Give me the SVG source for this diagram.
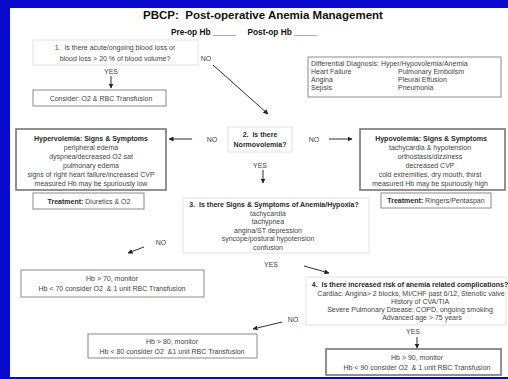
<svg xmlns="http://www.w3.org/2000/svg" width="508" height="379" viewBox="0 0 508 379" xml:space="preserve">
<defs>
<marker id="ah" viewBox="0 0 10 10" refX="9" refY="5" markerWidth="5" markerHeight="5" orient="auto" markerUnits="userSpaceOnUse">
<path d="M0,0 L10,5 L0,10 z" fill="#222"/>
</marker>
<style>
text{font-family:"Liberation Sans",Arial,sans-serif;font-size:7px;fill:#444;text-anchor:middle;white-space:pre}
.b{font-weight:bold;fill:#2a2a2a}
.l{text-anchor:start}
.q{fill:#fff;stroke:#e2e2e2;stroke-width:1}
.g{fill:#fff;stroke:#8a8a8a;stroke-width:1}
.g2{fill:#fff;stroke:#777;stroke-width:1.6}
.c{stroke:#333;stroke-width:1;fill:none;marker-end:url(#ah)}
</style>
</defs>
<rect x="0" y="0" width="508" height="379" fill="#0a0acc"/>
<rect x="10" y="8" width="498" height="369" fill="#fff"/>
<g id="title">
<text x="263" y="19" class="b" style="font-size:11.5px;fill:#111">PBCP:  Post-operative Anemia Management</text>
<text x="244" y="35" class="b" style="font-size:8.3px;fill:#111">Pre-op Hb _____     Post-op Hb _____</text>
</g>
<g id="connectors">
<line x1="111" y1="76" x2="111" y2="88" class="c"/>
<line x1="213" y1="65" x2="268" y2="114" class="c"/>
<line x1="192" y1="139" x2="169" y2="139" class="c"/>
<line x1="329" y1="139" x2="352" y2="139" class="c"/>
<line x1="263" y1="170" x2="263" y2="183" class="c"/>
<line x1="144" y1="247" x2="128" y2="253" class="c"/>
<line x1="304" y1="266" x2="329" y2="273" class="c"/>
<line x1="282" y1="322" x2="253" y2="329" class="c"/>
<line x1="417" y1="337" x2="417" y2="348" class="c"/>
<text x="206" y="61">NO</text>
<text x="111" y="74">YES</text>
<text x="212" y="142">NO</text>
<text x="314" y="142">NO</text>
<text x="260" y="168">YES</text>
<text x="161" y="245">NO</text>
<text x="271" y="267">YES</text>
<text x="293" y="322">NO</text>
<text x="413" y="334">YES</text>
</g>
<g id="q1">
<rect x="33" y="40" width="165" height="25" class="q"/>
<text x="115" y="50">1.  Is there acute/ongoing blood loss or</text>
<text x="115" y="61">blood loss &gt; 20 % of blood volume?</text>
</g>
<g id="consider">
<rect x="33" y="90" width="133" height="16" class="g"/>
<text x="101" y="100.5">Consider: O2 &amp; RBC Transfusion</text>
</g>
<g id="differential">
<rect x="308" y="57" width="193" height="40" class="g"/>
<text x="311" y="66" class="l">Differential Diagnosis: Hyper/Hypovolemia/Anemia</text>
<text x="311" y="74" class="l">Heart Failure</text>
<text x="398" y="74" class="l">Pulmonary Embolism</text>
<text x="311" y="82" class="l">Angina</text>
<text x="398" y="82" class="l">Pleural Effusion</text>
<text x="311" y="90" class="l">Sepsis</text>
<text x="398" y="90" class="l">Pneumonia</text>
</g>
<g id="hyper">
<rect x="16" y="129" width="150" height="61" class="g2"/>
<text x="91" y="141" class="b">Hypervolemia: Signs &amp; Symptoms</text>
<text x="91" y="150">peripheral edema</text>
<text x="91" y="159">dyspnea/decreased O2 sat</text>
<text x="91" y="168">pulmonary edema</text>
<text x="91" y="177">signs of right heart failure/increased CVP</text>
<text x="91" y="186">measured Hb may be spuriously low</text>
</g>
<g id="treat-hyper">
<rect x="33" y="193" width="111" height="16" class="g"/>
<text x="89" y="203.5"><tspan class="b">Treatment:</tspan> Diuretics &amp; O2</text>
</g>
<g id="q2">
<rect x="228" y="127" width="64" height="25" class="q"/>
<text x="260" y="137" class="b">2.  Is there</text>
<text x="260" y="147" class="b">Normovolemia?</text>
</g>
<g id="hypo">
<rect x="360" y="129" width="145" height="61" class="g2"/>
<text x="431" y="141" class="b">Hypovolemia: Signs &amp; Symptoms</text>
<text x="430" y="150">tachycardia &amp; hypotension</text>
<text x="430" y="159">orthostasis/dizziness</text>
<text x="430" y="168">decreased CVP</text>
<text x="430" y="177">cold extremities, dry mouth, thirst</text>
<text x="430" y="186">measured Hb may be spuriously high</text>
</g>
<g id="treat-hypo">
<rect x="381" y="193" width="110" height="15" class="g"/>
<text x="436" y="203"><tspan class="b">Treatment:</tspan> Ringers/Pentaspan</text>
</g>
<g id="q3">
<rect x="183" y="198" width="186" height="55" class="q"/>
<text x="274" y="207" class="b">3.  Is there Signs &amp; Symptoms of Anemia/Hypoxia?</text>
<text x="268" y="216">tachycardia</text>
<text x="268" y="224">tachypnea</text>
<text x="268" y="232.5">angina/ST depression</text>
<text x="268" y="241">syncope/postural hypotension</text>
<text x="268" y="249.5">confusion</text>
</g>
<g id="hb70">
<rect x="21" y="270" width="183" height="27" class="g"/>
<text x="112" y="280.5">Hb &gt; 70, monitor</text>
<text x="112" y="290.5">Hb &lt; 70 consider O2  &amp; 1 unit RBC Transfusion</text>
</g>
<g id="q4">
<rect x="306" y="277" width="200" height="48" class="q"/>
<text x="410" y="287" class="b">4.  Is there increased risk of anemia related complications?</text>
<text x="411" y="295.5">Cardiac: Angina&gt; 2 blocks, MI/CHF past 6/12, Stenotic valve</text>
<text x="420" y="303.5">History of CVA/TIA</text>
<text x="410" y="311.5">Severe Pulmonary Disease: COPD, ongoing smoking</text>
<text x="422" y="319.5">Advanced age &gt; 75 years</text>
</g>
<g id="hb80">
<rect x="88" y="334" width="169" height="24" class="g"/>
<text x="172" y="344">Hb &gt; 80, monitor</text>
<text x="172" y="354">Hb &lt; 80 consider O2  &amp;1 unit RBC Transfusion</text>
</g>
<g id="hb90">
<rect x="326" y="349" width="175" height="26" class="g2"/>
<text x="417" y="359.5">Hb &gt; 90, monitor</text>
<text x="417" y="369.5">Hb &lt; 90 consider O2  &amp; 1 unit RBC Transfusion</text>
</g>
</svg>
